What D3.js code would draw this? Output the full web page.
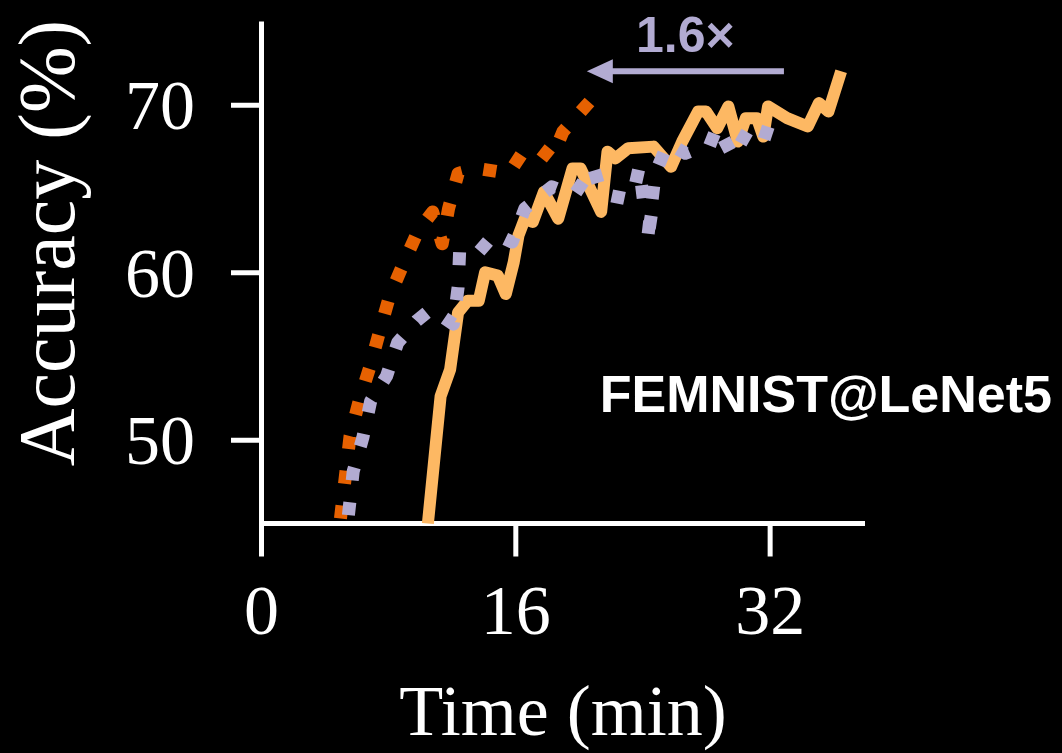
<!DOCTYPE html>
<html>
<head>
<meta charset="utf-8">
<script src="https://cdn.jsdelivr.net/npm/d3@7"></script>
<style>
  body { margin: 0; background: #000; }
  svg { display: block; }
</style>
</head>
<body>
<svg id="chart" width="1062" height="753"></svg>
<script>
// light orange, solid
const solid_time = [10.5, 11.3, 11.9, 12.4, 13.0, 13.7, 14.1, 14.9, 15.4, 15.9, 16.2, 16.6, 17.1, 17.8, 18.7, 19.6, 20.1, 21.4, 21.8, 22.3, 23.1, 24.7, 25.8, 26.5, 27.5, 28.0, 28.7, 29.4, 30.0, 30.5, 31.2, 31.6, 31.9, 33.1, 34.4, 35.1, 35.7, 36.5]
const solid_acc = [45.0, 52.6, 54.2, 57.6, 58.3, 58.3, 60.0, 59.8, 58.7, 60.6, 62.2, 63.2, 63.0, 64.8, 63.2, 66.2, 66.2, 63.6, 67.2, 66.8, 67.4, 67.5, 66.3, 67.8, 69.6, 69.6, 68.6, 69.9, 67.8, 69.2, 69.2, 68.1, 69.9, 69.2, 68.7, 70.1, 69.6, 72.0]

// dark orange, dotted
const dark_time = [5.0, 5.6, 6.2, 6.9, 7.5, 8.1, 9.0, 9.9, 10.8, 11.4, 11.8, 12.4, 13.6, 15.6, 16.5, 17.5, 18.3, 19.0, 20.7]
const dark_acc = [45.3, 50.2, 52.4, 54.5, 56.6, 58.6, 60.6, 62.5, 63.6, 61.7, 63.8, 65.9, 66.2, 65.9, 67.2, 67.4, 66.8, 68.4, 70.2]

// lavender, dotted
const lav_time = [5.5, 5.8, 6.4, 6.9, 7.9, 8.6, 9.8, 10.7, 12.1, 12.4, 12.5, 13.7, 14.7, 15.8, 16.6, 18.3, 19.7, 20.9, 21.4, 22.9, 23.4, 23.8, 24.1, 24.6, 24.3, 24.8, 25.6, 26.7, 27.7, 28.2, 28.7, 29.7, 30.6, 31.6, 32.2]
const lav_acc = [45.5, 48.1, 50.1, 52.3, 53.8, 55.8, 57.1, 57.8, 56.9, 59.1, 61.3, 61.2, 62.3, 61.8, 63.8, 65.1, 64.6, 66.3, 64.7, 64.4, 64.6, 66.3, 64.0, 63.7, 61.8, 65.9, 67.7, 67.1, 67.5, 67.5, 68.7, 66.9, 68.4, 67.8, 69.5]

const x_ticks = [0, 16, 32]
const y_ticks = [50, 60, 70]

// speedup arrow, in data units
const arrow_from = 32.9
const arrow_to = 20.5
const arrow_acc = 72
const arrow_label = "1.6×"
const panel_label = "FEMNIST@LeNet5"

function zip(xs, ys) {
  return xs.map((x, i) => ({t: x, acc: ys[i]}))
}

function visualize() {
  let svg = d3.select("#chart")
  let x = d3.scaleLinear().domain([0, 38]).range([261, 865])
  let y = d3.scaleLinear().domain([45, 75]).range([523.5, 21])

  let serif = "'Liberation Serif', 'Times New Roman', serif"
  let sans = "'Liberation Sans', Arial, Helvetica, sans-serif"

  // x axis
  let xa = svg.append("g")
    .attr("transform", "translate(0, 523.5)")
    .call(d3.axisBottom(x).tickValues(x_ticks).tickSize(33).tickSizeOuter(0).tickPadding(28))
  // y axis
  let ya = svg.append("g")
    .attr("transform", "translate(261, 0)")
    .call(d3.axisLeft(y).tickValues(y_ticks).tickSize(30).tickSizeOuter(0).tickPadding(36))

  for (let a of [xa, ya]) {
    a.select(".domain").attr("stroke", "#fff").attr("stroke-width", 5)
    a.selectAll(".tick line").attr("stroke", "#fff").attr("stroke-width", 5)
    a.selectAll(".tick text")
      .attr("fill", "#fff")
      .style("font-family", serif)
      .style("font-size", "70px")
  }
  xa.selectAll(".tick text").attr("dy", "0.71em")
  ya.selectAll(".tick text").attr("dy", "0.34em")
  xa.select(".domain").attr("d", "M" + x(0) + ",0H865")

  // axis titles, centred on the axes box like matplotlib does
  svg.append("text")
    .attr("x", (261 + 865) / 2).attr("y", 735)
    .attr("text-anchor", "middle")
    .attr("fill", "#fff")
    .style("font-family", serif).style("font-size", "72px")
    .text("Time (min)")

  svg.append("text")
    .attr("transform", "translate(74, 243) rotate(-90)")
    .attr("text-anchor", "middle")
    .attr("fill", "#fff")
    .style("font-family", serif).style("font-size", "80px")
    .text("Accuracy (%)")

  let line_gen = d3.line()
    .x(d => x(d.t))
    .y(d => y(d.acc))

  svg.append("path")
    .attr("d", line_gen(zip(solid_time, solid_acc)))
    .attr("fill", "none")
    .attr("stroke", "#fdb863")
    .attr("stroke-width", 12)
    .attr("stroke-linejoin", "round")

  svg.append("path")
    .attr("d", line_gen(zip(dark_time, dark_acc)))
    .attr("fill", "none")
    .attr("stroke", "#e66101")
    .attr("stroke-width", 13)
    .attr("stroke-dasharray", "13,22")
    .attr("stroke-linejoin", "round")

  svg.append("path")
    .attr("d", line_gen(zip(lav_time, lav_acc)))
    .attr("fill", "none")
    .attr("stroke", "#b2abd2")
    .attr("stroke-width", 13)
    .attr("stroke-dasharray", "13,22")
    .attr("stroke-linejoin", "round")

  // arrow + speedup label
  let ay = y(arrow_acc)
  svg.append("line")
    .attr("x1", x(arrow_from)).attr("x2", x(arrow_to) + 20)
    .attr("y1", ay).attr("y2", ay)
    .attr("stroke", "#b2abd2")
    .attr("stroke-width", 6)
  svg.append("path")
    .attr("d", `M${x(arrow_to)},${ay} L${x(arrow_to) + 26},${ay - 12} L${x(arrow_to) + 26},${ay + 12} Z`)
    .attr("fill", "#b2abd2")
  svg.append("text")
    .attr("x", (x(arrow_from) + x(arrow_to)) / 2).attr("y", 52)
    .attr("text-anchor", "middle")
    .attr("fill", "#b2abd2")
    .style("font-family", sans).style("font-size", "50px").style("font-weight", "bold")
    .text(arrow_label)

  svg.append("text")
    .attr("x", 1052).attr("y", 412)
    .attr("text-anchor", "end")
    .attr("fill", "#fff")
    .style("font-family", sans).style("font-size", "52px").style("font-weight", "bold")
    .text(panel_label)
}

visualize()
</script>
</body>
</html>
